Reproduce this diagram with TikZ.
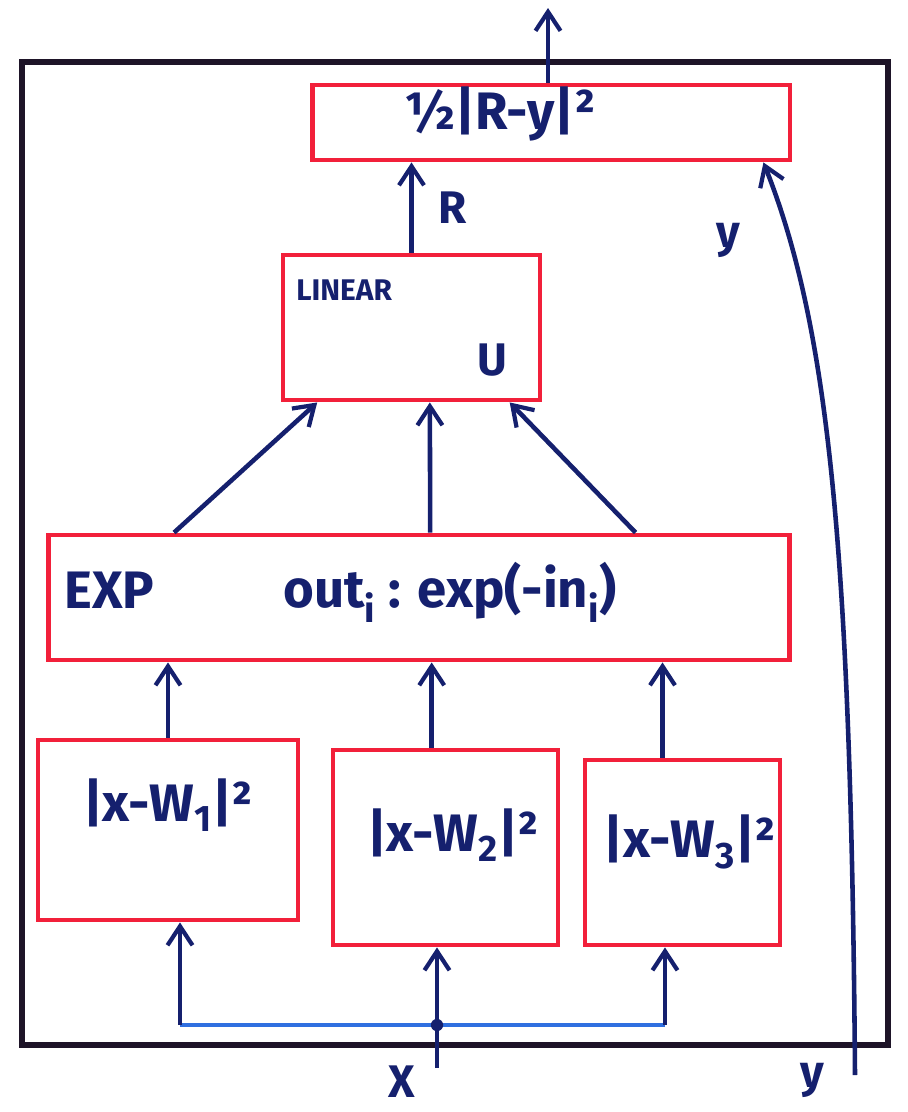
\documentclass[tikz,border=0pt]{standalone}
\usepackage{fontspec}
\setmainfont{Fira Sans}
\usetikzlibrary{arrows.meta,calc}
\definecolor{ink}{HTML}{15206E}
\definecolor{redbox}{HTML}{F2203A}
\definecolor{frameink}{HTML}{1E1428}
\definecolor{busblue}{HTML}{2F6FE0}
\tikzset{
  box/.style={draw=redbox, line width=2.8pt, inner sep=0pt},
  frm/.style={draw=frameink, line width=3.8pt, inner sep=0pt},
  arr/.style={draw=ink, line width=2.6pt, -{Straight Barb[length=3.8mm,width=5mm,line width=2.4pt]}},
  wire/.style={draw=ink, line width=2.6pt},
  bus/.style={draw=busblue, line width=2.8pt},
  lbl/.style={text=ink, font=\fontsize{26}{28}\selectfont\bfseries, inner sep=0pt},
  biglbl/.style={text=ink, font=\fontsize{30}{32}\selectfont\bfseries, inner sep=0pt},
  smalllbl/.style={text=ink, font=\fontsize{17}{19}\selectfont\bfseries, inner sep=0pt},
}
\begin{document}
\begin{tikzpicture}[x=0.02cm,y=-0.02cm]
\useasboundingbox (0,0) rectangle (907,1112);
% outer frame
\node[frm, minimum width=17.32cm, minimum height=19.66cm] (frame) at (455,553.5) {};
% boxes
\node[box, minimum width=9.56cm, minimum height=1.5cm] (loss) at (551,122.5) {};
\node[box, minimum width=5.14cm, minimum height=2.9cm] (linear) at (411.5,327.5) {};
\node[box, minimum width=14.84cm, minimum height=2.5cm] (exp) at (419,597.5) {};
\node[box, minimum width=5.2cm, minimum height=3.6cm] (b1) at (168,830) {};
\node[box, minimum width=4.5cm, minimum height=3.9cm] (b2) at (445.5,847.5) {};
\node[box, minimum width=3.9cm, minimum height=3.7cm] (b3) at (682.5,852.5) {};
% texts
\node[biglbl] (losst) at (500,114) {½|R-y|²};
\node[smalllbl, anchor=west] (lint) at (296,290) {LINEAR};
\node[lbl] (ut) at (492,360) {U};
\node[biglbl, anchor=west] (expt) at (64,590) {EXP};
\node[biglbl] (fnt) at (450,592) {out\textsubscript{i} : exp(-in\textsubscript{i})};
\node[biglbl] (b1t) at (168,805) {|x-W\textsubscript{1}|²};
\node[biglbl] (b2t) at (453,835) {|x-W\textsubscript{2}|²};
\node[biglbl] (b3t) at (690,842) {|x-W\textsubscript{3}|²};
% free ends and anchor points
\coordinate (top) at (548,8);
\coordinate (xin) at (437,1068);
\coordinate (yin) at (855,1075);
\coordinate (busl) at (180,1025);
\coordinate (busm) at (437,1025);
\coordinate (busr) at (665,1025);
\coordinate (b2n) at ($(b2.north west)!0.44!(b2.north east)$);
\coordinate (b3n) at ($(b3.north west)!0.4!(b3.north east)$);
\coordinate (e1) at ($(exp.north west)!0.172!(exp.north east)$);
\coordinate (e2) at ($(exp.north west)!0.515!(exp.north east)$);
\coordinate (e3) at ($(exp.north west)!0.79!(exp.north east)$);
\coordinate (l1) at ($(linear.south west)!0.14!(linear.south east)$);
\coordinate (l2) at ($(linear.south west)!0.57!(linear.south east)$);
\coordinate (l3) at ($(linear.south west)!0.875!(linear.south east)$);
\coordinate (ly) at ($(loss.south west)!0.94!(loss.south east)$);
% connectors top
\draw[arr] (top |- loss.north) -- (top);
\draw[arr] (linear.north) -- (linear.north |- loss.south) node[lbl, midway, right=14pt] (rt) {R};
% exp to linear
\draw[arr] (e1) -- (l1);
\draw[arr] (e2) -- (l2);
\draw[arr] (e3) -- (l3);
% boxes to exp
\draw[arr] (b1.north) -- (b1.north |- exp.south);
\draw[arr] (b2n) -- (b2n |- exp.south);
\draw[arr] (b3n) -- (b3n |- exp.south);
% input bus
\draw[bus] (busl) -- (busr);
\draw[wire] (xin) -- (busm);
\fill[ink] (busm) circle (3.5pt);
\draw[arr] (busl) -- (busl |- b1.south);
\draw[arr] (busm) -- (busm |- b2.south);
\draw[arr] (busr) -- (busr |- b3.south);
% y target
\draw[arr] (yin) .. controls (851,560) and (830,330) .. (ly);
% labels
\node[lbl] (xl) at (402,1082) {X};
\node[lbl] (yl1) at (812,1080) {y};
\node[lbl] (yl2) at (728,240) {y};
\end{tikzpicture}
\end{document}
